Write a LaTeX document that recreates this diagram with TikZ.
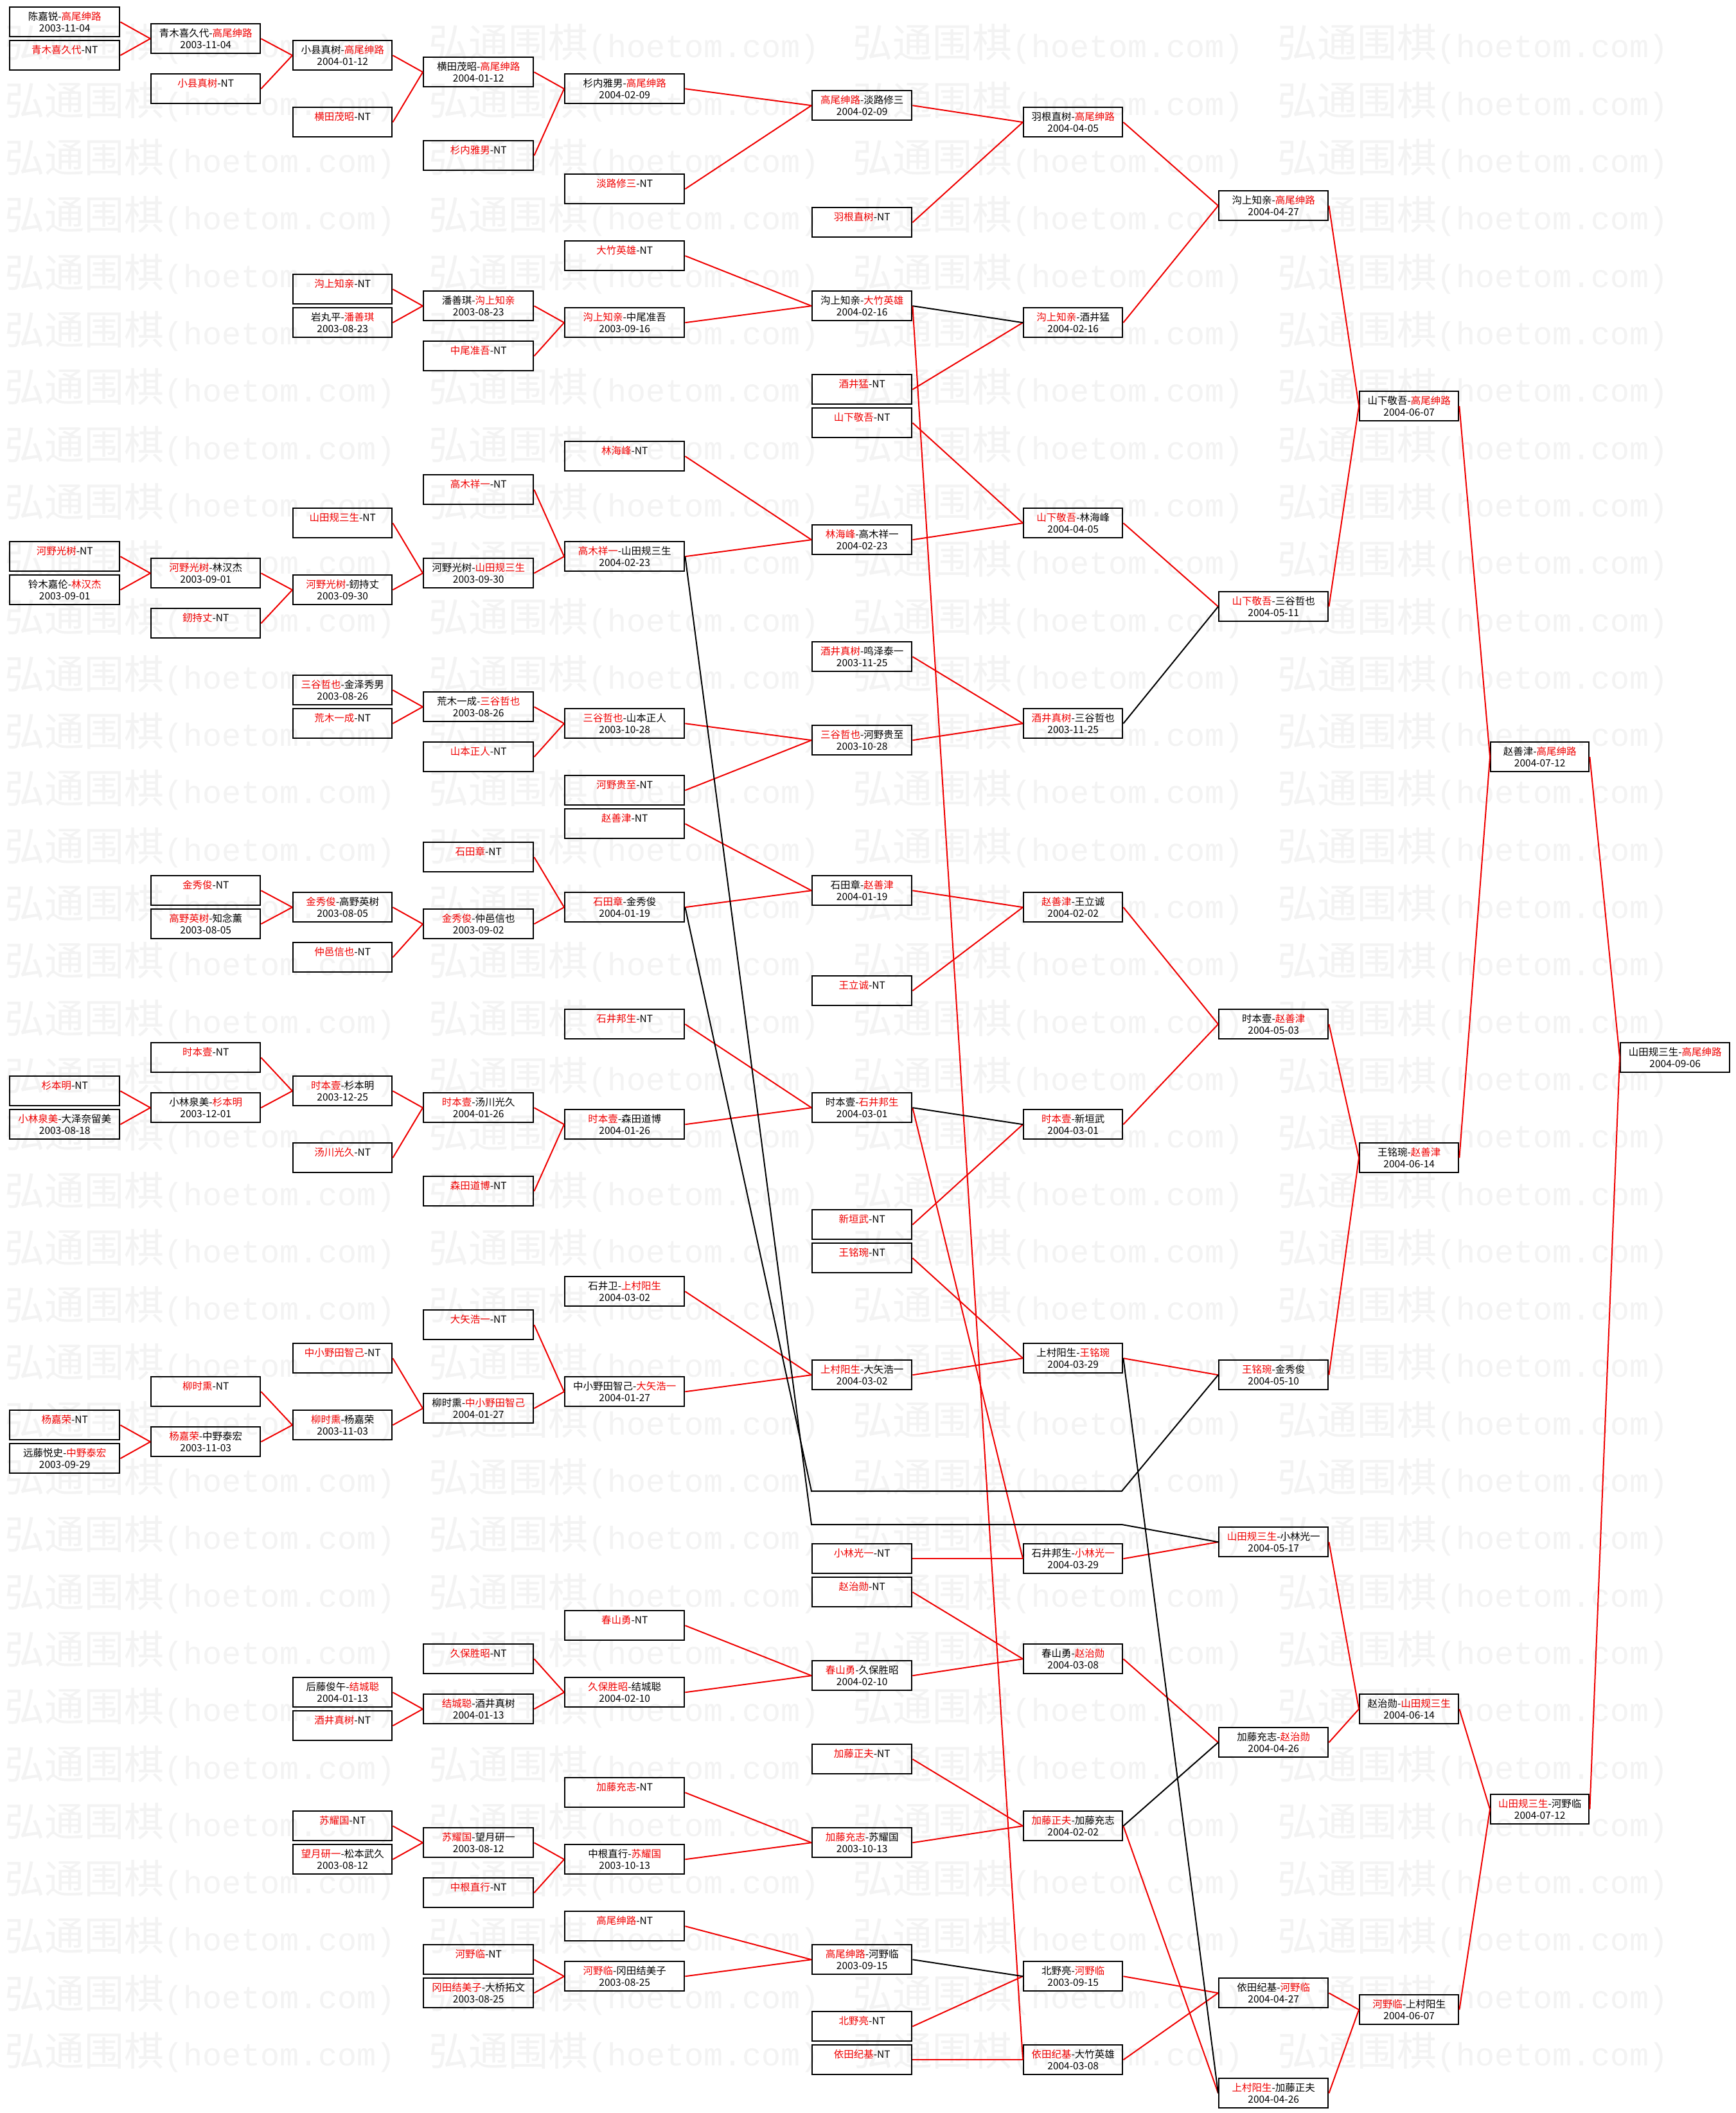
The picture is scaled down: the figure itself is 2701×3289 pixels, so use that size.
\documentclass[tikz,border=0pt]{standalone}
\usepackage{fontspec}
\setmainfont{Noto Sans CJK SC}
\newfontfamily\wmcjk{Noto Sans CJK SC}
\newfontfamily\wmmono{Liberation Mono}
\definecolor{wred}{RGB}{240,0,0}
\definecolor{wmark}{RGB}{243,243,243}
\newcommand\R[1]{\textcolor{wred}{#1}}
\newcommand\mystrut{\rule[-2.5pt]{0pt}{18pt}}
\newcommand\wmunit{\makebox[660.3pt][l]{{\wmcjk\fontsize{62pt}{62pt}\selectfont 弘通围棋}{\wmmono\fontsize{50pt}{50pt}\selectfont (hoetom.com)}}}
\tikzset{
 gbox/.style={draw=black, line width=2.4pt, inner sep=0pt, minimum height=46pt, align=center, font=\fontsize{15.5pt}{18pt}\selectfont, anchor=north west},
 rl/.style={draw=wred, line width=2pt},
 bl/.style={draw=black, line width=2pt},
 wm/.style={text=wmark, inner sep=0pt, anchor=base west},
}
\newcommand\gb[6]{\node[gbox, minimum width=#3pt] (#1) at (#2,{10+#4*26}) {\mystrut#5\\\mystrut#6};}
\newcommand\GbA[4]{\gb{#1}{14}{171}{#2}{#3}{#4}}
\newcommand\GbB[4]{\gb{#1}{234}{170}{#2}{#3}{#4}}
\newcommand\GbC[4]{\gb{#1}{455}{154}{#2}{#3}{#4}}
\newcommand\GbD[4]{\gb{#1}{658}{171}{#2}{#3}{#4}}
\newcommand\GbE[4]{\gb{#1}{878}{186}{#2}{#3}{#4}}
\newcommand\GbF[4]{\gb{#1}{1263}{155}{#2}{#3}{#4}}
\newcommand\GbG[4]{\gb{#1}{1592}{154}{#2}{#3}{#4}}
\newcommand\GbH[4]{\gb{#1}{1896}{170}{#2}{#3}{#4}}
\newcommand\GbI[4]{\gb{#1}{2115}{154}{#2}{#3}{#4}}
\newcommand\GbJ[4]{\gb{#1}{2319}{153}{#2}{#3}{#4}}
\newcommand\GbK[4]{\gb{#1}{2521}{170}{#2}{#3}{#4}}
\begin{document}
\begin{tikzpicture}[x=1pt,y=-1pt]
\fill[white] (0,0) rectangle (2701,3289);
\useasboundingbox (0,0) rectangle (2701,3289);
\begin{scope}
\clip (0,0) rectangle (2701,3289);
\foreach \r in {0,...,35} {
  \node[wm] (wm\r) at (7,{68+\r*89.3+22}) {\wmunit\wmunit\wmunit\wmunit};
}
\end{scope}
% column 0
\GbA{c0a}{0}{陈嘉锐-\R{高尾绅路}}{2003-11-04}
\GbA{c0b}{2}{\R{青木喜久代}-NT}{}
\GbA{c0c}{32}{\R{河野光树}-NT}{}
\GbA{c0d}{34}{铃木嘉伦-\R{林汉杰}}{2003-09-01}
\GbA{c0e}{64}{\R{杉本明}-NT}{}
\GbA{c0f}{66}{\R{小林泉美}-大泽奈留美}{2003-08-18}
\GbA{c0g}{84}{\R{杨嘉荣}-NT}{}
\GbA{c0h}{86}{远藤悦史-\R{中野泰宏}}{2003-09-29}
% column 1
\GbB{c1a}{1}{青木喜久代-\R{高尾绅路}}{2003-11-04}
\GbB{c1b}{4}{\R{小县真树}-NT}{}
\GbB{c1c}{33}{\R{河野光树}-林汉杰}{2003-09-01}
\GbB{c1d}{36}{\R{釰持丈}-NT}{}
\GbB{c1e}{52}{\R{金秀俊}-NT}{}
\GbB{c1f}{54}{\R{高野英树}-知念薰}{2003-08-05}
\GbB{c1g}{62}{\R{时本壹}-NT}{}
\GbB{c1h}{65}{小林泉美-\R{杉本明}}{2003-12-01}
\GbB{c1i}{82}{\R{柳时熏}-NT}{}
\GbB{c1j}{85}{\R{杨嘉荣}-中野泰宏}{2003-11-03}
% column 2
\GbC{c2a}{2}{小县真树-\R{高尾绅路}}{2004-01-12}
\GbC{c2b}{6}{\R{横田茂昭}-NT}{}
\GbC{c2c}{16}{\R{沟上知亲}-NT}{}
\GbC{c2d}{18}{岩丸平-\R{潘善琪}}{2003-08-23}
\GbC{c2e}{30}{\R{山田规三生}-NT}{}
\GbC{c2f}{34}{\R{河野光树}-釰持丈}{2003-09-30}
\GbC{c2g}{40}{\R{三谷哲也}-金泽秀男}{2003-08-26}
\GbC{c2h}{42}{\R{荒木一成}-NT}{}
\GbC{c2i}{53}{\R{金秀俊}-高野英树}{2003-08-05}
\GbC{c2j}{56}{\R{仲邑信也}-NT}{}
\GbC{c2k}{64}{\R{时本壹}-杉本明}{2003-12-25}
\GbC{c2l}{68}{\R{汤川光久}-NT}{}
\GbC{c2m}{80}{\R{中小野田智己}-NT}{}
\GbC{c2n}{84}{\R{柳时熏}-杨嘉荣}{2003-11-03}
\GbC{c2o}{100}{后藤俊午-\R{结城聪}}{2004-01-13}
\GbC{c2p}{102}{\R{酒井真树}-NT}{}
\GbC{c2q}{108}{\R{苏耀国}-NT}{}
\GbC{c2r}{110}{\R{望月研一}-松本武久}{2003-08-12}
% column 3
\GbD{c3a}{3}{横田茂昭-\R{高尾绅路}}{2004-01-12}
\GbD{c3b}{8}{\R{杉内雅男}-NT}{}
\GbD{c3c}{17}{潘善琪-\R{沟上知亲}}{2003-08-23}
\GbD{c3d}{20}{\R{中尾准吾}-NT}{}
\GbD{c3e}{28}{\R{高木祥一}-NT}{}
\GbD{c3f}{33}{河野光树-\R{山田规三生}}{2003-09-30}
\GbD{c3g}{41}{荒木一成-\R{三谷哲也}}{2003-08-26}
\GbD{c3h}{44}{\R{山本正人}-NT}{}
\GbD{c3i}{50}{\R{石田章}-NT}{}
\GbD{c3j}{54}{\R{金秀俊}-仲邑信也}{2003-09-02}
\GbD{c3k}{65}{\R{时本壹}-汤川光久}{2004-01-26}
\GbD{c3l}{70}{\R{森田道博}-NT}{}
\GbD{c3m}{78}{\R{大矢浩一}-NT}{}
\GbD{c3n}{83}{柳时熏-\R{中小野田智己}}{2004-01-27}
\GbD{c3o}{98}{\R{久保胜昭}-NT}{}
\GbD{c3p}{101}{\R{结城聪}-酒井真树}{2004-01-13}
\GbD{c3q}{109}{\R{苏耀国}-望月研一}{2003-08-12}
\GbD{c3r}{112}{\R{中根直行}-NT}{}
\GbD{c3s}{116}{\R{河野临}-NT}{}
\GbD{c3t}{118}{\R{冈田结美子}-大桥拓文}{2003-08-25}
% column 4
\GbE{c4a}{4}{杉内雅男-\R{高尾绅路}}{2004-02-09}
\GbE{c4b}{10}{\R{淡路修三}-NT}{}
\GbE{c4c}{14}{\R{大竹英雄}-NT}{}
\GbE{c4d}{18}{\R{沟上知亲}-中尾准吾}{2003-09-16}
\GbE{c4e}{26}{\R{林海峰}-NT}{}
\GbE{c4f}{32}{\R{高木祥一}-山田规三生}{2004-02-23}
\GbE{c4g}{42}{\R{三谷哲也}-山本正人}{2003-10-28}
\GbE{c4h}{46}{\R{河野贵至}-NT}{}
\GbE{c4i}{48}{\R{赵善津}-NT}{}
\GbE{c4j}{53}{\R{石田章}-金秀俊}{2004-01-19}
\GbE{c4k}{60}{\R{石井邦生}-NT}{}
\GbE{c4l}{66}{\R{时本壹}-森田道博}{2004-01-26}
\GbE{c4m}{76}{石井卫-\R{上村阳生}}{2004-03-02}
\GbE{c4n}{82}{中小野田智己-\R{大矢浩一}}{2004-01-27}
\GbE{c4o}{96}{\R{春山勇}-NT}{}
\GbE{c4p}{100}{\R{久保胜昭}-结城聪}{2004-02-10}
\GbE{c4q}{106}{\R{加藤充志}-NT}{}
\GbE{c4r}{110}{中根直行-\R{苏耀国}}{2003-10-13}
\GbE{c4s}{114}{\R{高尾绅路}-NT}{}
\GbE{c4t}{117}{\R{河野临}-冈田结美子}{2003-08-25}
% column 5
\GbF{c5a}{5}{\R{高尾绅路}-淡路修三}{2004-02-09}
\GbF{c5b}{12}{\R{羽根直树}-NT}{}
\GbF{c5c}{17}{沟上知亲-\R{大竹英雄}}{2004-02-16}
\GbF{c5d}{22}{\R{酒井猛}-NT}{}
\GbF{c5e}{24}{\R{山下敬吾}-NT}{}
\GbF{c5f}{31}{\R{林海峰}-高木祥一}{2004-02-23}
\GbF{c5g}{38}{\R{酒井真树}-鸣泽泰一}{2003-11-25}
\GbF{c5h}{43}{\R{三谷哲也}-河野贵至}{2003-10-28}
\GbF{c5i}{52}{石田章-\R{赵善津}}{2004-01-19}
\GbF{c5j}{58}{\R{王立诚}-NT}{}
\GbF{c5k}{65}{时本壹-\R{石井邦生}}{2004-03-01}
\GbF{c5l}{72}{\R{新垣武}-NT}{}
\GbF{c5m}{74}{\R{王铭琬}-NT}{}
\GbF{c5n}{81}{\R{上村阳生}-大矢浩一}{2004-03-02}
\GbF{c5o}{92}{\R{小林光一}-NT}{}
\GbF{c5p}{94}{\R{赵治勋}-NT}{}
\GbF{c5q}{99}{\R{春山勇}-久保胜昭}{2004-02-10}
\GbF{c5r}{104}{\R{加藤正夫}-NT}{}
\GbF{c5s}{109}{\R{加藤充志}-苏耀国}{2003-10-13}
\GbF{c5t}{116}{\R{高尾绅路}-河野临}{2003-09-15}
\GbF{c5u}{120}{\R{北野亮}-NT}{}
\GbF{c5v}{122}{\R{依田纪基}-NT}{}
% column 6
\GbG{c6a}{6}{羽根直树-\R{高尾绅路}}{2004-04-05}
\GbG{c6b}{18}{\R{沟上知亲}-酒井猛}{2004-02-16}
\GbG{c6c}{30}{\R{山下敬吾}-林海峰}{2004-04-05}
\GbG{c6d}{42}{\R{酒井真树}-三谷哲也}{2003-11-25}
\GbG{c6e}{53}{\R{赵善津}-王立诚}{2004-02-02}
\GbG{c6f}{66}{\R{时本壹}-新垣武}{2004-03-01}
\GbG{c6g}{80}{上村阳生-\R{王铭琬}}{2004-03-29}
\GbG{c6h}{92}{石井邦生-\R{小林光一}}{2004-03-29}
\GbG{c6i}{98}{春山勇-\R{赵治勋}}{2004-03-08}
\GbG{c6j}{108}{\R{加藤正夫}-加藤充志}{2004-02-02}
\GbG{c6k}{117}{北野亮-\R{河野临}}{2003-09-15}
\GbG{c6l}{122}{\R{依田纪基}-大竹英雄}{2004-03-08}
% column 7
\GbH{c7a}{11}{沟上知亲-\R{高尾绅路}}{2004-04-27}
\GbH{c7b}{35}{\R{山下敬吾}-三谷哲也}{2004-05-11}
\GbH{c7c}{60}{时本壹-\R{赵善津}}{2004-05-03}
\GbH{c7d}{81}{\R{王铭琬}-金秀俊}{2004-05-10}
\GbH{c7e}{91}{\R{山田规三生}-小林光一}{2004-05-17}
\GbH{c7f}{103}{加藤充志-\R{赵治勋}}{2004-04-26}
\GbH{c7g}{118}{依田纪基-\R{河野临}}{2004-04-27}
\GbH{c7h}{124}{\R{上村阳生}-加藤正夫}{2004-04-26}
% column 8
\GbI{c8a}{23}{山下敬吾-\R{高尾绅路}}{2004-06-07}
\GbI{c8b}{68}{王铭琬-\R{赵善津}}{2004-06-14}
\GbI{c8c}{101}{赵治勋-\R{山田规三生}}{2004-06-14}
\GbI{c8d}{119}{\R{河野临}-上村阳生}{2004-06-07}
% column 9
\GbJ{c9a}{44}{赵善津-\R{高尾绅路}}{2004-07-12}
\GbJ{c9b}{107}{\R{山田规三生}-河野临}{2004-07-12}
% column 10
\GbK{c10a}{62}{山田规三生-\R{高尾绅路}}{2004-09-06}
% connectors col0 -> col1
\foreach \a/\b in {c0a/c1a,c0b/c1a,c0c/c1c,c0d/c1c,c0e/c1h,c0f/c1h,c0g/c1j,c0h/c1j}
  \draw[rl] (\a.east) -- (\b.west);
% col1 -> col2
\foreach \a/\b in {c1a/c2a,c1b/c2a,c1c/c2f,c1d/c2f,c1e/c2i,c1f/c2i,c1g/c2k,c1h/c2k,c1i/c2n,c1j/c2n}
  \draw[rl] (\a.east) -- (\b.west);
% col2 -> col3
\foreach \a/\b in {c2a/c3a,c2b/c3a,c2c/c3c,c2d/c3c,c2e/c3f,c2f/c3f,c2g/c3g,c2h/c3g,c2i/c3j,c2j/c3j,c2k/c3k,c2l/c3k,c2m/c3n,c2n/c3n,c2o/c3p,c2p/c3p,c2q/c3q,c2r/c3q}
  \draw[rl] (\a.east) -- (\b.west);
% col3 -> col4
\foreach \a/\b in {c3a/c4a,c3b/c4a,c3c/c4d,c3d/c4d,c3e/c4f,c3f/c4f,c3g/c4g,c3h/c4g,c3i/c4j,c3j/c4j,c3k/c4l,c3l/c4l,c3m/c4n,c3n/c4n,c3o/c4p,c3p/c4p,c3q/c4r,c3r/c4r,c3s/c4t,c3t/c4t}
  \draw[rl] (\a.east) -- (\b.west);
% col4 -> col5
\foreach \a/\b in {c4a/c5a,c4b/c5a,c4c/c5c,c4d/c5c,c4e/c5f,c4f/c5f,c4g/c5h,c4h/c5h,c4i/c5i,c4j/c5i,c4k/c5k,c4l/c5k,c4m/c5n,c4n/c5n,c4o/c5q,c4p/c5q,c4q/c5s,c4r/c5s,c4s/c5t,c4t/c5t}
  \draw[rl] (\a.east) -- (\b.west);
% col5 -> col6
\foreach \a/\b in {c5a/c6a,c5b/c6a,c5d/c6b,c5e/c6c,c5f/c6c,c5g/c6d,c5h/c6d,c5i/c6e,c5j/c6e,c5l/c6f,c5m/c6g,c5n/c6g,c5o/c6h,c5k/c6h,c5p/c6i,c5q/c6i,c5r/c6j,c5s/c6j,c5u/c6k,c5v/c6l,c5c/c6l}
  \draw[rl] (\a.east) -- (\b.west);
\foreach \a/\b in {c5c/c6b,c5k/c6f,c5t/c6k}
  \draw[bl] (\a.east) -- (\b.west);
% col6 -> col7
\foreach \a/\b in {c6a/c7a,c6b/c7a,c6c/c7b,c6e/c7c,c6f/c7c,c6g/c7d,c6h/c7e,c6i/c7f,c6k/c7g,c6l/c7g,c6j/c7h}
  \draw[rl] (\a.east) -- (\b.west);
\foreach \a/\b in {c6d/c7b,c6j/c7f,c6g/c7h}
  \draw[bl] (\a.east) -- (\b.west);
% long drops
\coordinate (k1a) at (1263,2321);
\coordinate (k1b) at (1746,2321);
\coordinate (k2a) at (1263,2373);
\coordinate (k2b) at (1746,2373);
\draw[bl] (c4j.east) -- (k1a) -- (k1b) -- (c7d.west);
\draw[bl] (c4f.east) -- (k2a) -- (k2b) -- (c7e.west);
% col7 -> col8 -> col9 -> col10
\foreach \a/\b in {c7a/c8a,c7b/c8a,c7c/c8b,c7d/c8b,c7e/c8c,c7f/c8c,c7g/c8d,c7h/c8d,c8a/c9a,c8b/c9a,c8c/c9b,c8d/c9b,c9a/c10a,c9b/c10a}
  \draw[rl] (\a.east) -- (\b.west);
\end{tikzpicture}
\end{document}
